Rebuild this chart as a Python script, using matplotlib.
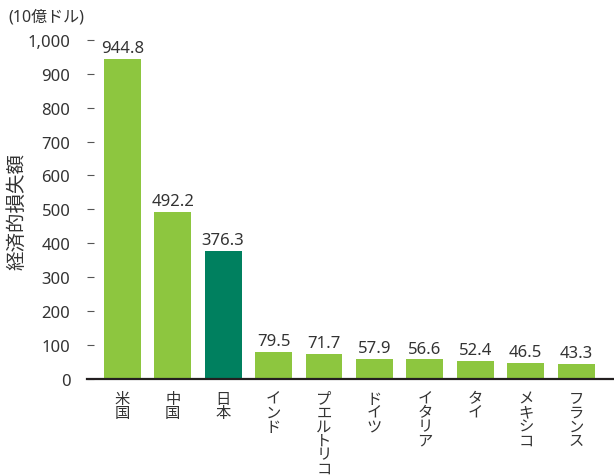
import matplotlib.pyplot as plt
import numpy as np

plt.rcParams['font.family'] = ['Noto Sans', 'Noto Sans CJK JP', 'DejaVu Sans']

# データ
laender = ["米国", "中国", "日本", "インド", "プエルトリコ", "ドイツ",
           "イタリア", "タイ", "メキシコ", "フランス"]
verluste = [944.8, 492.2, 376.3, 79.5, 71.7, 57.9, 56.6, 52.4, 46.5, 43.3]
farben = ["#8DC63F", "#8DC63F", "#00805F", "#8DC63F", "#8DC63F", "#8DC63F",
          "#8DC63F", "#8DC63F", "#8DC63F", "#8DC63F"]
y_ticks = [0, 100, 200, 300, 400, 500, 600, 700, 800, 900, 1000]

fig = plt.figure(figsize=(6.14, 4.77), dpi=100)
ax = fig.add_axes([87 / 614, 1 - 379.5 / 477, 1 - 87 / 614, (379.5 - 41) / 477])

x = np.arange(len(laender))
bars = ax.bar(x, verluste, width=0.73, color=farben, zorder=2)

for xi, v in zip(x, verluste):
    ax.annotate(f"{v:.1f}", (xi, v), xytext=(0, 2), textcoords="offset points",
                ha="center", va="bottom", fontsize=12, color="#333333",
                annotation_clip=False)

ax.set_xlim(-0.70, 9.75)
ax.set_ylim(0, 1000)
ax.set_yticks(y_ticks)
ax.set_yticklabels([f"{t:,}" for t in y_ticks])
ax.tick_params(axis="y", direction="in", length=5, width=0.8, color="#555555",
               pad=12, labelsize=12, labelcolor="#333333")

ax.set_xticks(x)
ax.set_xticklabels(["\n".join(n) for n in laender], va="top", linespacing=0.77,
                   family=['Noto Sans CJK JP'])
ax.tick_params(axis="x", length=0, pad=8, labelsize=11, labelcolor="#333333")

for s in ["top", "right", "left"]:
    ax.spines[s].set_visible(False)
ax.spines["bottom"].set_color("#231F20")
ax.spines["bottom"].set_linewidth(1.6)
ax.spines["bottom"].set_zorder(3)

fig.text(17 / 614, 1 - 212 / 477, "経済的損失額", rotation=90, ha="center",
         va="center", fontsize=14, color="#333333", family=['Noto Sans CJK JP'])
fig.text(8 / 614, 1 - 17 / 477, "(10億ドル)", ha="left", va="center",
         fontsize=11.5, color="#333333")

plt.savefig("out.png", dpi=100)
